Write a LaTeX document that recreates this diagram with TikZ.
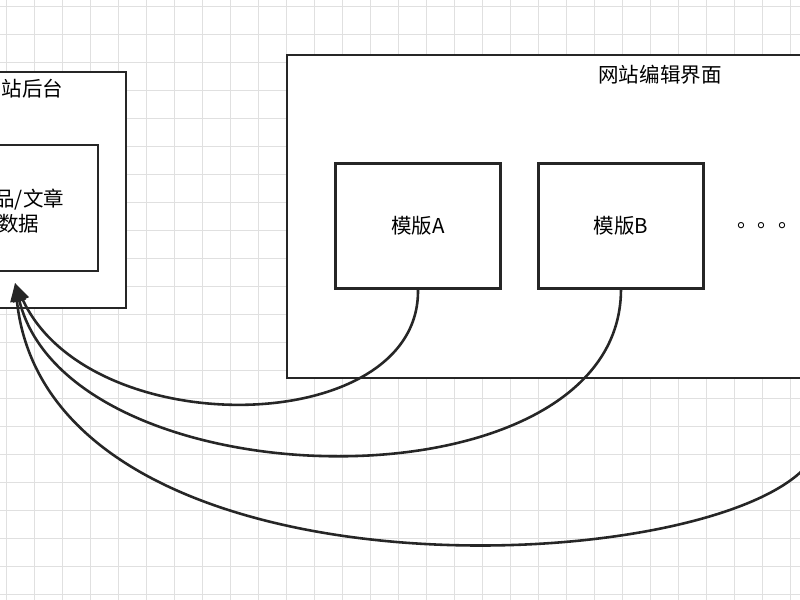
\documentclass[tikz,border=0pt]{standalone}
\usepackage{fontspec}
\setmainfont{Noto Sans CJK SC}
\usetikzlibrary{arrows.meta}
\tikzset{box/.style={draw=black!85, line width=2.2pt, fill=white},
  lbl/.style={font=\fontsize{17.5}{22}\selectfont},
  link/.style={draw=black!85, line width=2.2pt, -{Triangle[length=16pt,width=11pt]}}}
\begin{document}
\begin{tikzpicture}[x=0.03cm,y=-0.03cm]
\useasboundingbox (0,0) rectangle (800,600);
\fill[white] (0,0) rectangle (800,600);
% grid
\foreach \i in {0,...,29} \draw[black!12, line width=0.6pt] (6+28*\i,0) -- (6+28*\i,600);
\foreach \i in {0,...,21} \draw[black!12, line width=0.6pt] (0,6+28*\i) -- (800,6+28*\i);

% backend
\draw[box] (-80,72) rectangle (126,308);
\node (backtitle) [lbl, anchor=west] at (-23,89) {网站后台};
\draw[box] (-60,145) rectangle (98,271);
\node (data) [lbl, align=center] at (19,211) {产品/文章\\数据};
\coordinate (tip) at (15,283);

% editor
\draw[box] (287,55) rectangle (830,378);
\node (edittitle) [lbl] at (660,75) {网站编辑界面};
\node (tplA) [box, lbl, minimum width=165*0.03cm, minimum height=125*0.03cm] at (418,226) {模版A};
\node (tplB) [box, lbl, minimum width=165*0.03cm, minimum height=125*0.03cm] at (621,226) {模版B};
\node (dots) [lbl] at (768,226) {。。。};
\coordinate (more) at (810,462);

\draw[link] (tplA.south) .. controls (420,438) and (90,445) .. (tip);
\draw[link] (tplB.south) .. controls (620,515) and (70,505) .. (tip);
\draw[link] (more) .. controls (720,580) and (50,610) .. (tip);
\end{tikzpicture}
\end{document}
